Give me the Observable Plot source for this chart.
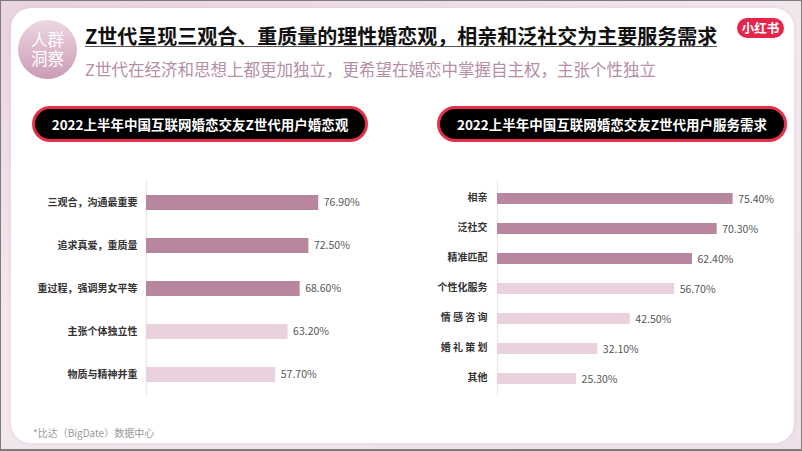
<!DOCTYPE html>
<html><head><meta charset="utf-8">
<script src="https://cdn.jsdelivr.net/npm/d3@7"></script>
<script src="https://cdn.jsdelivr.net/npm/@observablehq/plot@0.6"></script>
<style>
html,body{margin:0;padding:0;}
#page{position:relative;width:802px;height:451px;overflow:hidden;background:linear-gradient(160deg,#e9d3e0 0%,#f4e9ef 45%,#efe1ea 100%);font-family:"Noto Sans CJK SC","Noto Sans",sans-serif;}
#frame{position:absolute;left:0;top:0;width:802px;height:451px;box-sizing:border-box;border:1px solid #7c7c7c;border-bottom-width:2px;pointer-events:none;}
#card{position:absolute;left:11px;top:8px;width:783px;height:435px;background:#fff;border-radius:20px;box-shadow:0 0 4px rgba(200,170,190,0.35);}
#badge{position:absolute;left:18px;top:20px;width:59px;height:59px;border-radius:50%;background:linear-gradient(180deg,#ecd7e3 0%,#dbb5ca 55%,#c99cb5 100%);}
#badgeText{position:absolute;left:18px;top:31px;width:59px;color:#fff;font-family:"Liberation Sans","Noto Sans CJK SC",sans-serif;font-size:16.5px;line-height:19px;text-align:center;}
#title{position:absolute;left:85px;top:25px;font-size:20px;line-height:21px;font-weight:bold;color:#111;border-bottom:1.3px solid #555;white-space:nowrap;}
#subtitle{position:absolute;left:85px;top:60px;font-size:16.5px;line-height:19px;color:#b68ea6;white-space:nowrap;}
#logo{position:absolute;left:737px;top:18px;width:47px;height:20px;border-radius:10px;background:#e5264a;color:#fff;font-size:12.5px;font-weight:bold;line-height:20px;text-align:center;}
.pill{position:absolute;top:106px;height:36px;box-sizing:border-box;border:3px solid #e5304b;background:#000;border-radius:18px;color:#fff;font-size:13.5px;font-weight:bold;line-height:30px;text-align:center;white-space:nowrap;}
#pillL{left:32px;width:336px;}
#pillR{left:437px;width:350px;}
#footer{position:absolute;left:33px;top:426px;font-size:10px;line-height:14px;color:#9a9a9a;white-space:nowrap;}
#chartL{position:absolute;left:0;top:160px;}
#chartR{position:absolute;left:400px;top:160px;}
</style>
</head>
<body>
<div id="page">
  <div id="card"></div>
  <div id="badge"></div>
  <div id="badgeText">人群<br>洞察</div>
  <div id="title">Z世代呈现三观合、重质量的理性婚恋观，相亲和泛社交为主要服务需求</div>
  <div id="subtitle">Z世代在经济和思想上都更加独立，更希望在婚恋中掌握自主权，主张个性独立</div>
  <div id="logo">小红书</div>
  <div class="pill" id="pillL">2022上半年中国互联网婚恋交友Z世代用户婚恋观</div>
  <div class="pill" id="pillR">2022上半年中国互联网婚恋交友Z世代用户服务需求</div>
  <div id="chartL"></div>
  <div id="chartR"></div>
  <div id="footer">*比达（BigDate）数据中心</div>
  <div id="frame"></div>
</div>
<script>
// ---- Data ----
const leftCategories = ["三观合，沟通最重要","追求真爱，重质量","重过程，强调男女平等","主张个体独立性","物质与精神并重"];
const leftValues = [76.9, 72.5, 68.6, 63.2, 57.7];
const leftGroups = ["top","top","top","other","other"];

const rightCategories = ["相亲","泛社交","精准匹配","个性化服务","情 感 咨 询","婚 礼 策 划","其他"];
const rightValues = [75.4, 70.3, 62.4, 56.7, 42.5, 32.1, 25.3];
const rightGroups = ["top","top","top","other","other","other","other"];

const groupDomain = ["top","other"];
const groupColors = ["#b8869f","#e9d2de"];

function rows(cats, vals, groups){
  return cats.map((c,i)=>({cat:c, value:vals[i], group:groups[i]}));
}

function chart(data, cats, opts){
  return Plot.plot({
    width: opts.width, height: 250,
    marginTop: 21, marginBottom: opts.marginBottom,
    marginLeft: opts.marginLeft, marginRight: opts.marginRight,
    style: {background:"transparent", overflow:"visible", fontFamily:"'Noto Sans CJK SC', sans-serif", color:"#333"},
    x: {domain: opts.xDomain, axis: null},
    y: {domain: cats, paddingInner: 0.65, paddingOuter: 0.325},
    color: {domain: groupDomain, range: groupColors},
    marks: [
      Plot.ruleX([0], {stroke:"#ebebeb", strokeWidth:1.5}),
      Plot.barX(data, {x:"value", y:"cat", fill:"group"}),
      Plot.text(data, {x:"value", y:"cat", text:d=>d.value.toFixed(2)+"%", dx:5, dy:opts.valueDy, textAnchor:"start", fill:"#555", fontSize:10.5}),
      Plot.axisY({tickSize:0, tickPadding:opts.tickPadding, fontSize:10, fontWeight:"bold", label:null, dy:opts.labelDy})
    ]
  });
}

document.getElementById("chartL").append(chart(rows(leftCategories,leftValues,leftGroups), leftCategories,
  {width:400, marginBottom:14, marginLeft:146, marginRight:30, xDomain:[0,100], tickPadding:9, valueDy:0, labelDy:0}));
document.getElementById("chartR").append(chart(rows(rightCategories,rightValues,rightGroups), rightCategories,
  {width:402, marginBottom:15, marginLeft:97, marginRight:55, xDomain:[0,80], tickPadding:10, valueDy:1, labelDy:-1}));
</script>
</body></html>
